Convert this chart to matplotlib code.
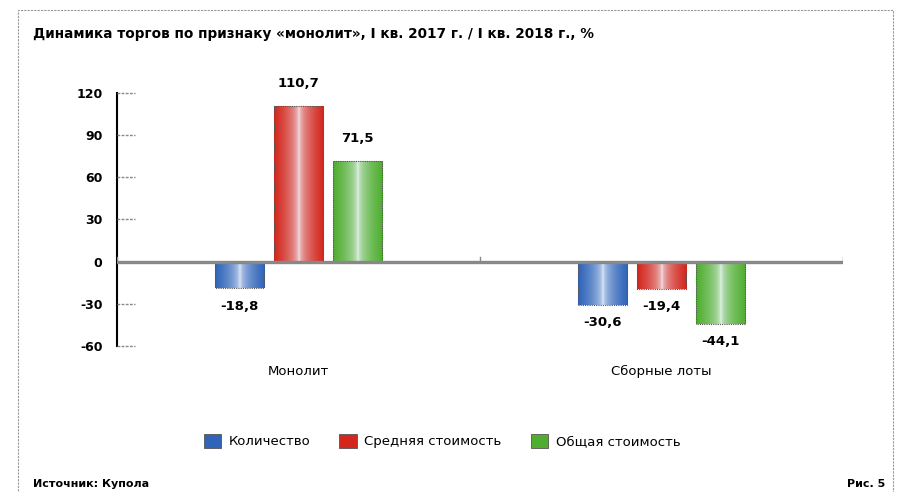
import matplotlib.pyplot as plt
import numpy as np
from matplotlib.colors import LinearSegmentedColormap
from matplotlib.patches import Rectangle
from matplotlib.transforms import blended_transform_factory

plt.rcParams['font.family'] = ['DejaVu Sans']

categories = ['Монолит', 'Сборные лоты']
series = ['Количество', 'Средняя стоимость', 'Общая стоимость']
values = {
    'Количество': [-18.8, -30.6],
    'Средняя стоимость': [110.7, -19.4],
    'Общая стоимость': [71.5, -44.1],
}
value_labels = {
    'Количество': ['-18,8', '-30,6'],
    'Средняя стоимость': ['110,7', '-19,4'],
    'Общая стоимость': ['71,5', '-44,1'],
}
colors = ['#2f64b8', '#d3261c', '#4fae2f']
yticks = [-60, -30, 0, 30, 60, 90, 120]

fig = plt.figure(figsize=(9.03, 4.92), dpi=100)
ax = fig.add_axes([117 / 903, 1 - 346 / 492, (843 - 117) / 903, (346 - 93) / 492])

# dashed frame around the chart
fig.patches.append(Rectangle((18 / 903, -0.05), (893 - 18) / 903, 1.05 - 10 / 492,
                             transform=fig.transFigure, fill=False,
                             edgecolor='#999999', lw=0.8, ls=(0, (2, 1))))

width = 0.136
step = 0.162
centers = np.array([0.5, 1.5])
grad = np.abs(np.linspace(-1, 1, 200)) ** 0.4
grad = grad.reshape(1, -1)

for i, (name, col) in enumerate(zip(series, colors)):
    xs = centers + (i - 1) * step
    bars = ax.bar(xs, values[name], width, color=col, edgecolor='#555555',
                  lw=0.8, ls=(0, (1, 1)), zorder=3, label=name)
    cmap = LinearSegmentedColormap.from_list('g' + name, ['#f4f8ff', col])
    for b, v, lab in zip(bars, values[name], value_labels[name]):
        x0 = b.get_x()
        y0, y1 = min(0, v), max(0, v)
        im = ax.imshow(grad, cmap=cmap, aspect='auto', vmin=0, vmax=1,
                       extent=(x0, x0 + width, y0, y1), zorder=2.5)
        im.set_clip_path(b)
        b.set_facecolor('none')
        off = 16 if v > 0 else -13
        ax.annotate(lab, (b.get_x() + width / 2, v), xytext=(0, off),
                    textcoords='offset points', ha='center', va='center',
                    fontsize=9.5, fontweight='bold')

ax.set_xlim(0, 2)
ax.set_ylim(-60, 120)
ax.axhline(0, color='#888888', lw=2.4, zorder=4)
for xt in [0, 1, 2]:
    ax.plot([xt, xt], [0, 3], color='#888888', lw=1, zorder=4)

# dashed y tick marks inside the axis
tr = blended_transform_factory(ax.transAxes, ax.transData)
ax.hlines(yticks, 0, 18 / 726, transform=tr, colors='#888888', lw=1,
          linestyles=(0, (2, 1)), zorder=4, clip_on=False)

for s in ['top', 'right', 'bottom']:
    ax.spines[s].set_visible(False)
ax.spines['left'].set_linewidth(1.5)
ax.set_yticks(yticks)
ax.set_yticklabels([str(t) for t in yticks], fontsize=9, fontweight='bold')
ax.tick_params(axis='y', length=0, pad=10.5)
ax.set_xticks([])
for c, name in zip(centers, categories):
    ax.text(c, -78, name, ha='center', va='center', fontsize=9.5)

fig.text(33 / 903, 1 - 34 / 492,
         'Динамика торгов по признаку «монолит», I кв. 2017 г. / I кв. 2018 г., %',
         fontsize=9.8, fontweight='bold', va='center', ha='left')

handles = [Rectangle((0, 0), 1, 1, facecolor=c, edgecolor='#555555', lw=0.6) for c in colors]
fig.legend(handles, series, loc='center', bbox_to_anchor=(442 / 903, 1 - 441 / 492),
           ncol=3, frameon=False, fontsize=9.5, handlelength=1.3, handleheight=1.3,
           columnspacing=2.2, handletextpad=0.6)

fig.text(33 / 903, 1 - 484 / 492, 'Источник: Купола', fontsize=8, fontweight='bold',
         va='center', ha='left')
fig.text(885 / 903, 1 - 484 / 492, 'Рис. 5', fontsize=8, fontweight='bold',
         va='center', ha='right')

fig.savefig('out.png', dpi=100)
